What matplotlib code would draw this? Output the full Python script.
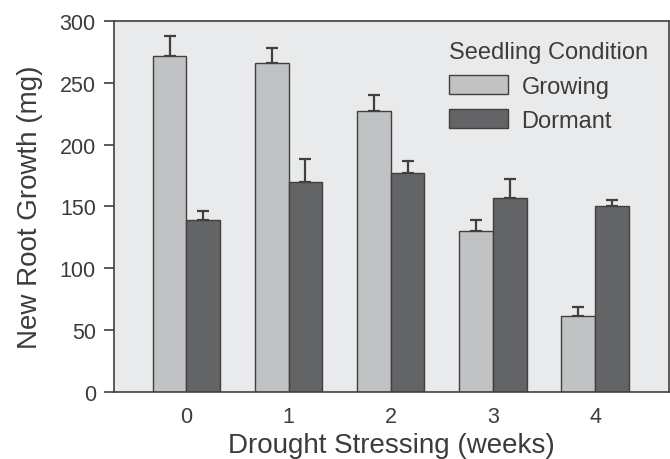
import numpy as np
import matplotlib
matplotlib.use('Agg')
from matplotlib import pyplot as plt

semanas = [0, 1, 2, 3, 4]
growing = [272, 266, 227, 130, 61]
growing_err = [16, 12, 13, 9, 8]
dormant = [139, 170, 177, 157, 150]
dormant_err = [7, 18, 10, 15, 5]

cor_texto = '#3c3c3c'
plt.rcParams['font.family'] = ['Liberation Sans', 'DejaVu Sans']

fig = plt.figure(figsize=(6.7, 4.6), dpi=100)
ax = fig.add_axes([0.170, 0.146, 0.828, 0.806])
ax.set_facecolor('#e9eaec')

x = np.arange(len(semanas))
w = 0.33
ax.bar(x - w/2, growing, w, color='#c1c2c4', edgecolor='#404040', linewidth=1.0,
       label='Growing', zorder=2)
ax.bar(x + w/2, dormant, w, color='#636466', edgecolor='#404040', linewidth=1.0,
       label='Dormant', zorder=2)

# barras de erro so para cima
ax.errorbar(x - w/2, growing, yerr=[np.zeros(5), growing_err], fmt='none',
            ecolor='#404040', elinewidth=1.6, capsize=4, capthick=1.6, zorder=1)
ax.errorbar(x + w/2, dormant, yerr=[np.zeros(5), dormant_err], fmt='none',
            ecolor='#404040', elinewidth=1.6, capsize=4, capthick=1.6, zorder=1)

ax.set_xlim(-0.71, 4.72)
ax.set_ylim(0, 300)
ax.set_yticks([0, 50, 100, 150, 200, 250, 300])
ax.set_xticks(x)
ax.set_xticklabels([str(s) for s in semanas])
ax.tick_params(direction='out', length=7, width=1.2, colors='#404040',
               labelcolor=cor_texto, labelsize=15.5, pad=6)
ax.tick_params(axis='x', length=0, pad=10)
for s in ax.spines.values():
    s.set_color('#404040')
    s.set_linewidth(1.2)

ax.set_ylabel('New Root Growth (mg)', fontsize=20, color=cor_texto, labelpad=12)
ax.set_xlabel('Drought Stressing (weeks)', fontsize=20, color=cor_texto, labelpad=4)

leg = ax.legend(title='Seedling Condition', loc='upper right', frameon=False,
                fontsize=17, title_fontsize=17, handlelength=2.5, handleheight=0.85,
                handletextpad=0.55, borderaxespad=0.45, labelspacing=0.5)
leg._legend_box.align = 'left'
for t in leg.get_texts():
    t.set_color(cor_texto)
leg.get_title().set_color(cor_texto)

fig.savefig('out.png', dpi=100)
